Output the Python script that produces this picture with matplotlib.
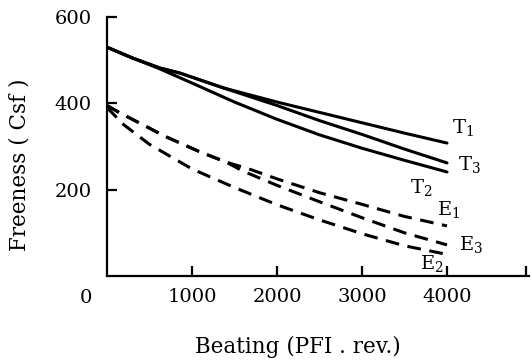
import matplotlib
matplotlib.use("Agg")
import matplotlib.pyplot as plt

plt.rcParams['font.family'] = ['DejaVu Serif']
plt.rcParams['mathtext.fontset'] = 'dejavuserif'

# Beating (PFI rev.) and freeness (Csf) values
x_T1 = [0, 300, 620, 860, 1365, 2000, 2500, 3000, 3500, 4000]
T1 = [530, 505, 482, 470, 436, 403, 379, 355, 331, 308]
x_T3 = [0, 300, 620, 860, 1365, 2000, 2500, 3000, 3500, 4000]
T3 = [530, 505, 482, 470, 436, 395, 360, 328, 294, 262]
x_T2 = [0, 300, 620, 1000, 1500, 2000, 2500, 3000, 3500, 4000]
T2 = [530, 505, 480, 447, 403, 363, 327, 296, 268, 241]

x_E1 = [0, 150, 700, 1100, 1400, 1700, 2000, 2500, 3000, 3500, 4000]
E1 = [395, 378, 322, 287, 264, 246, 225, 193, 166, 138, 116]
x_E3 = [0, 150, 700, 1100, 1400, 1600, 2000, 2500, 3000, 3500, 4000]
E3 = [395, 378, 322, 287, 264, 243, 210, 172, 135, 100, 72]
x_E2 = [0, 200, 500, 1000, 1500, 2000, 2500, 3000, 3500, 4000]
E2 = [390, 350, 305, 248, 205, 165, 130, 98, 70, 50]

labels = ["T$_1$", "T$_3$", "T$_2$", "E$_1$", "E$_3$", "E$_2$"]
label_pos = [(4060, 345), (4130, 258), (3565, 204), (3882, 153), (4141, 74), (3682, 30)]

x_ticks = [1000, 2000, 3000, 4000]
x_ticklabels = ["1000", "2000", "3000", "4000"]
y_ticks = [200, 400, 600]
y_ticklabels = ["200", "400", "600"]

W, H = 532, 361
fig = plt.figure(figsize=(W / 100, H / 100), dpi=100)
ax = fig.add_axes([107 / W, 85 / H, 421.6 / W, 259 / H])

solid = dict(color='black', lw=2.2, solid_capstyle='round')
dashed = dict(color='black', lw=2.2, linestyle=(0, (4.5, 2.8)))
ax.plot(x_T1, T1, **solid)
ax.plot(x_T3, T3, **solid)
ax.plot(x_T2, T2, **solid)
ax.plot(x_E1, E1, **dashed)
ax.plot(x_E3, E3, **dashed)
ax.plot(x_E2, E2, **dashed)

for lab, (lx, ly) in zip(labels, label_pos):
    ax.text(lx, ly, lab, ha='left', va='center', fontsize=14)

ax.set_xlim(0, 4960)
ax.set_ylim(0, 600)
ax.set_xticks(x_ticks)
ax.set_xticklabels(x_ticklabels)
ax.set_xticks([4930], minor=True)
ax.set_yticks(y_ticks)
ax.set_yticklabels(y_ticklabels)

for s in ['top', 'right']:
    ax.spines[s].set_visible(False)
for s in ['left', 'bottom']:
    ax.spines[s].set_linewidth(1.6)

ax.tick_params(axis='both', which='both', direction='in', length=7, width=1.6,
               labelsize=14)
ax.tick_params(axis='x', pad=9)
ax.tick_params(axis='y', pad=11)

fig.text(86 / W, 1 - 298 / H, "0", ha='center', va='center', fontsize=14)
fig.text(298 / W, 1 - 347 / H, "Beating (PFI . rev.)", ha='center', va='center', fontsize=15.5)
fig.text(20 / W, 1 - 165 / H, "Freeness ( Csf )", ha='center', va='center',
         rotation=90, fontsize=15.5)

fig.savefig("out.png", dpi=100)
